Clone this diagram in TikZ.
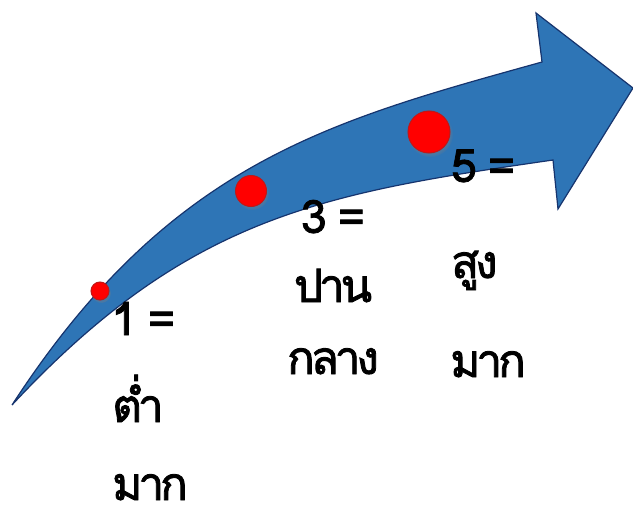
\documentclass[tikz,border=0pt]{standalone}
\usepackage{fontspec}
\newfontfamily\thaifont[Script=Thai, LetterSpace=-9, FakeBold=1.8]{Loma}
\usepackage{tikz}
\usetikzlibrary{positioning,shadows}

\definecolor{arrowblue}{RGB}{46,117,182}
\definecolor{arrowedge}{RGB}{22,52,110}
\definecolor{dotred}{RGB}{255,0,0}
\definecolor{dotedge}{RGB}{192,24,24}

\begin{document}
\begin{tikzpicture}[
    x=1pt, y=-1pt,
    band/.style={fill=arrowblue, draw=arrowedge, line width=1.2pt, line join=miter},
    reddot/.style={circle, fill=dotred, draw=dotedge, line width=1pt, inner sep=0pt,
        circular drop shadow={shadow xshift=1pt, shadow yshift=-2pt, opacity=0.35}},
    scoretext/.style={font=\thaifont\fontsize{46}{48}\selectfont, inner sep=0pt,
        text height=32pt, text depth=4pt, anchor=base west}
]
\useasboundingbox (0,0) rectangle (633,514);

% -------- Curved arrow --------
\draw[band] (12,405) .. controls (170,162) and (330,121) .. (542,62)
    -- (536,13) -- (633,88) -- (558,209) -- (553,160)
    .. controls (325,193) and (189,215) .. cycle;

% -------- Dots --------
\node[reddot, minimum size=18pt] (low) at (100,291) {};
\node[reddot, minimum size=31pt] (mid) at (251,191) {};
\node[reddot, minimum size=42pt] (high) at (429,132) {};

% -------- Labels --------
\node[scoretext] (lowa) at (111,335) {1 =};
\node[scoretext] (lowb) at (112,422) {ต่ำ};
\node[scoretext] (lowc) at (112,500) {มาก};

\node[scoretext, anchor=base] (mida) at (333,233) {3 =};
\node[scoretext, anchor=base] (midb) at (333,302) {ปาน};
\node[scoretext, anchor=base] (midc) at (333,374) {กลาง};

\node[scoretext] (higha) at (451,182) {5 =};
\node[scoretext] (highb) at (451,278) {สูง};
\node[scoretext] (highc) at (450,377) {มาก};

\end{tikzpicture}
\end{document}
